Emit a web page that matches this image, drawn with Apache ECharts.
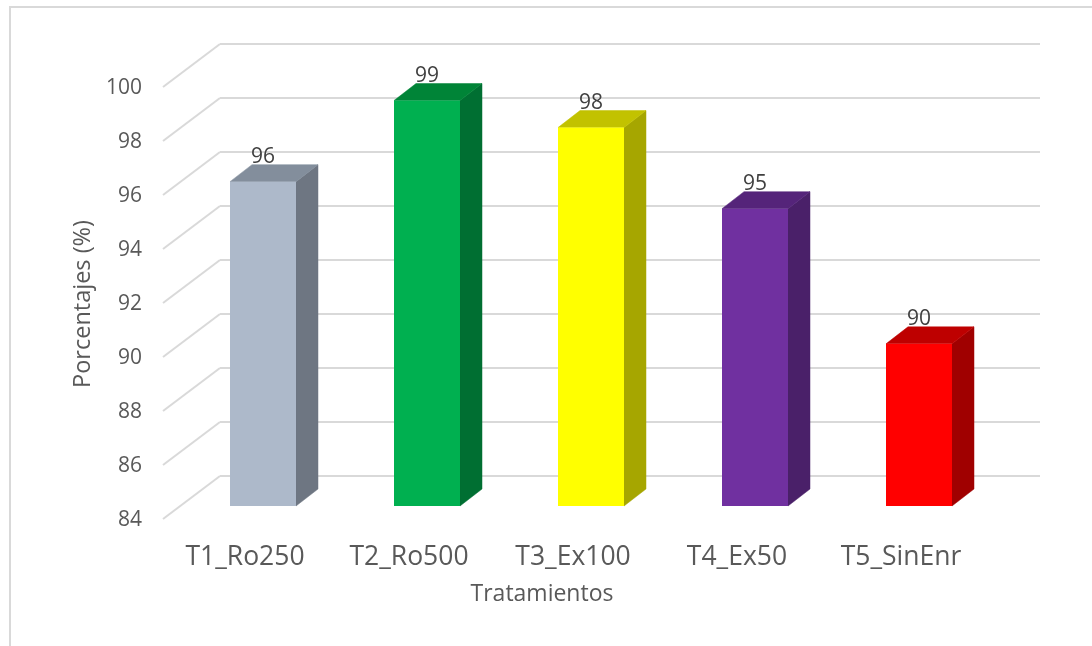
<!DOCTYPE html>
<html><head><meta charset="utf-8">
<style>html,body{margin:0;padding:0;background:#fff}#c{width:1092px;height:646px}</style>
<script src="https://cdn.jsdelivr.net/npm/echarts@6/dist/echarts.min.js"></script>
</head><body><div id="c"></div>
<script>
const categories = ['T1_Ro250','T2_Ro500','T3_Ex100','T4_Ex50','T5_SinEnr'];
const values = [96,99,98,95,90];
const frontColors = ['#ADB9CA','#00B050','#FFFF00','#7030A0','#FF0000'];
const topColors = ['#838E9C','#008437','#C2C200','#55247A','#BE0000'];
const sideColors = ['#6E7682','#006F32','#A6A600','#4A2069','#A00000'];
const wallTicks = [84,86,88,90,92,94,96,98,100];
const FONT = '"Open Sans"';
const GRAY = '#595959';
const chart = echarts.init(document.getElementById('c'), null, {renderer:'canvas'});
const DX = 22, DY = 17, BAR = 66;      // 3D depth of the bars
const FLOOR_DX = 57, FLOOR_DY = 43;    // depth of the chart floor

function renderBar(params, api){
  const i = api.value(0), v = api.value(1);
  const p = api.coord([i, v]), b = api.coord([i, 84]);
  const x0 = Math.round(p[0]-BAR/2), x1 = x0+BAR, yt = p[1], yb = b[1];
  const poly = (pts, fill) => ({type:'polygon', shape:{points:pts}, style:{fill, stroke:fill, lineWidth:0.5}});
  return {type:'group', children:[
    poly([[x1,yt],[x1+DX,yt-DY],[x1+DX,yb-DY],[x1,yb]], sideColors[i]),
    poly([[x0,yt],[x0+DX,yt-DY],[x1+DX,yt-DY],[x1,yt]], topColors[i]),
    {type:'rect', shape:{x:x0,y:yt,width:BAR,height:yb-yt}, style:{fill:frontColors[i]}},
    {type:'text', style:{text:String(v), x:p[0], y:yt-25, align:'center', verticalAlign:'middle',
      font:'21px '+FONT, fill:'#404040'}}
  ]};
}
function renderDiag(params, api){
  const p = api.coord([0, api.value(0)]);
  return {type:'line', shape:{x1:220,y1:p[1],x2:220-FLOOR_DX,y2:p[1]+FLOOR_DY},
    style:{stroke:'#D9D9D9', lineWidth:2}};
}
const hidden = {show:false};
chart.setOption({
  animation:false,
  backgroundColor:'#fff',
  textStyle:{fontFamily:FONT},
  graphic:[
    {type:'polyline', silent:true, shape:{points:[[10,646],[10,7],[1092,7]]}, style:{stroke:'#D9D9D9',lineWidth:2,fill:null}}
  ],
  grid:[
    {left:220,width:820,top:44,height:432},            // back wall
    {left:163,width:820,top:88,height:432},            // axis labels plane
    {left:181,width:820,top:73.5,height:432.5}         // bar front plane
  ],
  xAxis:[
    {gridIndex:0,type:'category',data:categories,axisLine:hidden,axisTick:hidden,axisLabel:hidden,splitLine:hidden},
    {gridIndex:1,type:'category',data:categories,axisLine:hidden,axisTick:hidden,splitLine:hidden,
      axisLabel:{color:GRAY,fontSize:26.5,fontFamily:FONT,margin:24},
      name:'Tratamientos',nameLocation:'middle',nameGap:63,
      nameTextStyle:{color:GRAY,fontSize:23,fontFamily:FONT,padding:[0,62,0,0]}},
    {gridIndex:2,type:'category',data:categories,axisLine:hidden,axisTick:hidden,axisLabel:hidden,splitLine:hidden}
  ],
  yAxis:[
    {gridIndex:0,type:'value',min:84,max:100,interval:2,axisLine:hidden,axisTick:hidden,axisLabel:hidden,
      splitLine:{show:true,lineStyle:{color:'#D9D9D9',width:2}}},
    {gridIndex:1,type:'value',min:84,max:100,interval:2,axisLine:hidden,axisTick:hidden,splitLine:hidden,
      axisLabel:{color:GRAY,fontSize:21,fontFamily:FONT,margin:21},
      name:'Porcentajes (%)',nameLocation:'middle',nameGap:67,nameRotate:90,
      nameTextStyle:{color:GRAY,fontSize:23.5,fontFamily:FONT}},
    {gridIndex:2,type:'value',min:84,max:100,interval:2,axisLine:hidden,axisTick:hidden,axisLabel:hidden,splitLine:hidden}
  ],
  series:[
    {type:'custom',xAxisIndex:0,yAxisIndex:0,coordinateSystem:'cartesian2d',renderItem:renderDiag,
      data:wallTicks.map(t=>[t]),encode:{y:0},silent:true,z:1},
    {type:'custom',xAxisIndex:2,yAxisIndex:2,coordinateSystem:'cartesian2d',renderItem:renderBar,
      data:values.map((v,i)=>[i,v]),encode:{x:0,y:1},silent:true,z:3}
  ]
});
</script></body></html>
